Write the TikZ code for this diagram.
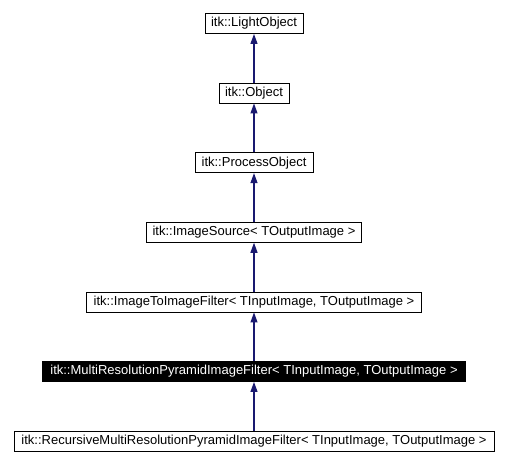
\documentclass[tikz,border=0pt]{standalone}
\usepackage{fontspec}
\setmainfont{Liberation Sans}
\usetikzlibrary{arrows.meta}
\definecolor{edgeblue}{HTML}{191970}
\begin{document}
\begin{tikzpicture}[x=1pt,y=1pt,
  cls/.style={draw=black, line width=0.9pt, fill=white, inner sep=0pt, minimum height=20pt, font=\fontsize{13}{14}\selectfont, anchor=center},
  cur/.style={cls, fill=black, text=white},
  inh/.style={draw=edgeblue, line width=1.1pt, -{Triangle[length=10pt,width=7pt]}}]
\useasboundingbox (0,0) rectangle (508,-465);
\node[cls, minimum width=98pt] (lo) at (254,-23.5) {itk::LightObject};
\node[cls, minimum width=70pt] (ob) at (254,-93) {itk::Object};
\node[cls, minimum width=118pt] (po) at (254,-162.7) {itk::ProcessObject};
\node[cls, minimum width=215pt] (is) at (254,-232.3) {itk::ImageSource< TOutputImage >};
\node[cls, minimum width=335pt] (ii) at (254,-302) {itk::ImageToImageFilter< TInputImage, TOutputImage >};
\node[cur, minimum width=423pt] (mr) at (254,-371.5) {itk::MultiResolutionPyramidImageFilter< TInputImage, TOutputImage >};
\node[cls, minimum width=480pt] (rm) at (254,-441) {itk::RecursiveMultiResolutionPyramidImageFilter< TInputImage, TOutputImage >};
\draw[inh] (ob.north) -- (lo.south);
\draw[inh] (po.north) -- (ob.south);
\draw[inh] (is.north) -- (po.south);
\draw[inh] (ii.north) -- (is.south);
\draw[inh] (mr.north) -- (ii.south);
\draw[inh] (rm.north) -- (mr.south);
\end{tikzpicture}
\end{document}
